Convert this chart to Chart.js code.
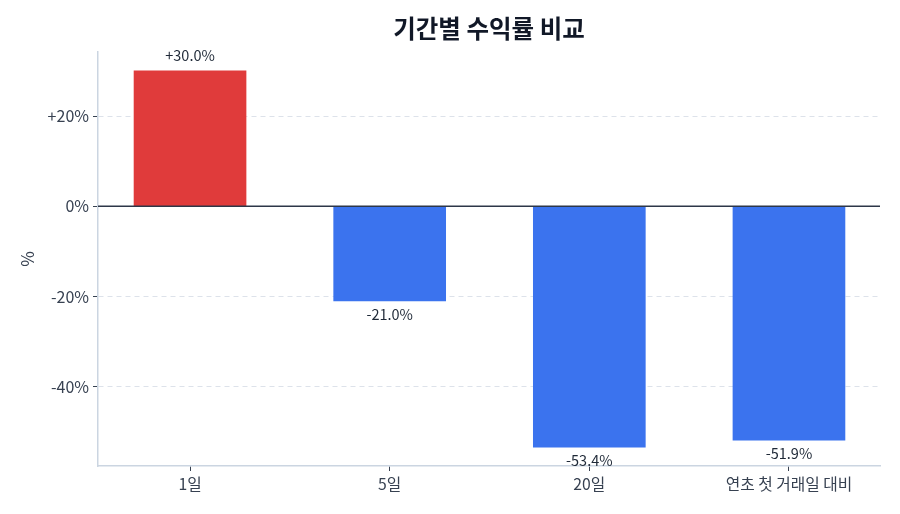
<!DOCTYPE html>
<html>
<head>
<meta charset="utf-8">
<script src="https://cdn.jsdelivr.net/npm/chart.js@4.4.0/dist/chart.umd.min.js"></script>
<style>
  html, body { margin: 0; padding: 0; background: #fff; }
  #wrap { width: 900px; height: 514px; }
</style>
</head>
<body>
<div id="wrap"><canvas id="returnChart" width="900" height="514"></canvas></div>
<script>
// period labels and returns (%)
const periods = ["1일", "5일", "20일", "연초 첫 거래일 대비"];
const returns = [30.0, -21.0, -53.4, -51.9];
const yTicks = [-40, -20, 0, 20];

const UP = "#e03b3b";
const DOWN = "#3b73ee";
const FONT = "'Noto Sans CJK KR', 'Noto Sans', sans-serif";

// value labels above / below each bar
const valueLabels = {
  id: "valueLabels",
  afterDatasetsDraw(chart) {
    const ctx = chart.ctx;
    const meta = chart.getDatasetMeta(0);
    ctx.save();
    ctx.font = "14.5px " + FONT;
    ctx.fillStyle = "#1f2937";
    ctx.textAlign = "center";
    meta.data.forEach((bar, i) => {
      const v = returns[i];
      const txt = (v > 0 ? "+" : "") + v.toFixed(1) + "%";
      if (v >= 0) {
        ctx.textBaseline = "bottom";
        ctx.fillText(txt, bar.x, bar.y - 8);
      } else {
        ctx.textBaseline = "top";
        ctx.fillText(txt, bar.x, bar.y + 6);
      }
    });
    ctx.restore();
  }
};

// solid line at 0%
const zeroLine = {
  id: "zeroLine",
  afterDatasetsDraw(chart) {
    const { ctx, chartArea } = chart;
    const y = chart.scales.y.getPixelForValue(0);
    ctx.save();
    ctx.strokeStyle = "#2d3748";
    ctx.lineWidth = 1.5;
    ctx.beginPath();
    ctx.moveTo(chartArea.left, y);
    ctx.lineTo(chartArea.right, y);
    ctx.stroke();
    ctx.restore();
  }
};

new Chart(document.getElementById("returnChart"), {
  type: "bar",
  data: {
    datasets: [{
      data: returns.map((v, i) => ({ x: i, y: v })),
      backgroundColor: returns.map(v => v >= 0 ? UP : DOWN),
      barThickness: 112
    }]
  },
  options: {
    responsive: false,
    animation: false,
    layout: { padding: { top: 14, right: 20, bottom: 0, left: 0 } },
    plugins: {
      legend: { display: false },
      tooltip: { enabled: false },
      title: {
        display: true,
        text: "기간별 수익률 비교",
        fullSize: false,
        color: "#111827",
        font: { family: FONT, size: 24.5, weight: "bold" },
        padding: { top: 0, bottom: 8.6 }
      }
    },
    scales: {
      x: {
        type: "linear",
        offset: false,
        min: -0.461,
        max: 3.456,
        afterBuildTicks: axis => { axis.ticks = periods.map((_, i) => ({ value: i })); },
        afterFit: axis => { axis.height = 48; },
        ticks: {
          callback: v => periods[v],
          color: "#374151",
          font: { family: FONT, size: 15.75 },
          padding: 4,
          maxRotation: 0,
          autoSkip: false
        },
        grid: { offset: false, drawOnChartArea: false, tickLength: 5, tickColor: "#374151" },
        border: { color: "#cbd5e1", width: 1.5 }
      },
      y: {
        min: -57.6,
        max: 34.2,
        afterBuildTicks: axis => { axis.ticks = yTicks.map(v => ({ value: v })); },
        afterFit: axis => { axis.width = 98; },
        ticks: {
          callback: v => (v > 0 ? "+" : "") + v + "%",
          color: "#374151",
          font: { family: FONT, size: 16 },
          padding: 4
        },
        grid: {
          color: ctx => ctx.tick && ctx.tick.value === 0 ? "rgba(0,0,0,0)" : "#dde2ea",
          tickLength: 5,
          tickColor: "#374151"
        },
        border: { color: "#cbd5e1", width: 1.5, dash: [5, 4] },
        title: {
          display: true,
          text: "%",
          color: "#374151",
          font: { family: FONT, size: 17 },
          padding: { top: 17, bottom: 0 }
        }
      }
    }
  },
  plugins: [valueLabels, zeroLine]
});
</script>
</body>
</html>
